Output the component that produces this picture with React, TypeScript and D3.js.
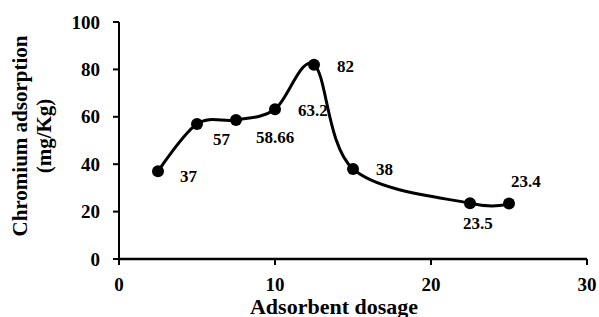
import React from "react";
import * as d3 from "d3";

const dosage = [2.5, 5, 7.5, 10, 12.5, 15, 22.5, 25];
const adsorption = [37, 57, 58.66, 63.2, 82, 38, 23.5, 23.4];
const pointLabels = ["37", "57", "58.66", "63.2", "82", "38", "23.5", "23.4"];
const xTicks = [0, 10, 20, 30];
const yTicks = [0, 20, 40, 60, 80, 100];

// label nudges, in px, relative to each point
const labelNudge: [number, number][] = [
  [22, 11],
  [16, 21],
  [20, 23],
  [23, 7],
  [23, 7],
  [23, 6],
  [-7, 26],
  [2, -17],
];

const W = 599;
const H = 317;
const font = "'Times New Roman', 'Liberation Serif', serif";

export default function App() {
  const x = d3.scaleLinear().domain([0, 30]).range([119, 587]);
  const y = d3.scaleLinear().domain([0, 100]).range([259, 22]);

  const pts = dosage.map((d, i) => [d, adsorption[i]] as [number, number]);
  const lineGen = d3
    .line<[number, number]>()
    .x((d) => x(d[0]))
    .y((d) => y(d[1]))
    .curve(d3.curveCardinal.tension(0));

  return (
    <svg
      width={W}
      height={H}
      style={{ position: "absolute", left: 0, top: 0, background: "#fff" }}
      fontFamily={font}
      fontWeight="bold"
    >
      {/* y axis */}
      <line x1={x(0)} x2={x(0)} y1={y(0)} y2={y(100)} stroke="#000" strokeWidth={2} />
      {yTicks.map((t) => (
        <g key={"y" + t}>
          <line x1={x(0) - 6} x2={x(0)} y1={y(t)} y2={y(t)} stroke="#000" strokeWidth={2} />
          <text x={x(0) - 19} y={y(t)} dy="0.35em" textAnchor="end" fontSize={19}>
            {t}
          </text>
        </g>
      ))}
      {/* x axis */}
      <line x1={x(0)} x2={x(30)} y1={y(0)} y2={y(0)} stroke="#000" strokeWidth={2.5} />
      {xTicks.map((t) => (
        <g key={"x" + t}>
          <line x1={x(t)} x2={x(t)} y1={y(0)} y2={y(0) + 6} stroke="#000" strokeWidth={2} />
          <text x={x(t)} y={291} textAnchor="middle" fontSize={19}>
            {t}
          </text>
        </g>
      ))}
      <text x={334} y={314} textAnchor="middle" fontSize={22}>
        Adsorbent dosage
      </text>
      <g transform="translate(0,136) rotate(-90)">
        <text x={0} y={27} textAnchor="middle" fontSize={21}>
          Chromium adsorption
        </text>
        <text x={0} y={51} textAnchor="middle" fontSize={21}>
          (mg/Kg)
        </text>
      </g>

      <path d={lineGen(pts) ?? ""} fill="none" stroke="#000" strokeWidth={3} />
      {pts.map((p, i) => (
        <circle key={"c" + i} cx={x(p[0])} cy={y(p[1])} r={6} fill="#000" />
      ))}
      {pts.map((p, i) => (
        <text
          key={"l" + i}
          x={x(p[0]) + labelNudge[i][0]}
          y={y(p[1]) + labelNudge[i][1]}
          fontSize={17}
        >
          {pointLabels[i]}
        </text>
      ))}
    </svg>
  );
}
